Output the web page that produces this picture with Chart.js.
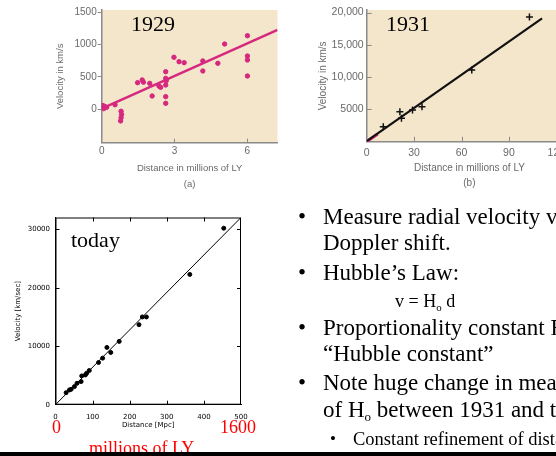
<!DOCTYPE html>
<html>
<head>
<meta charset="utf-8">
<script src="https://cdn.jsdelivr.net/npm/chart.js@4"></script>
<style>
  html, body { margin: 0; padding: 0; background: #fff; }
  body { width: 556px; height: 456px; overflow: hidden; position: relative; }
  .box { position: absolute; }
  .yr { position: absolute; font-family: "Liberation Serif", serif; font-size: 22px; color: #000; line-height: 22px; }
  .red { position: absolute; font-family: "Liberation Serif", serif; font-size: 18px; color: #f00; line-height: 18px; white-space: nowrap; }
  .ln { position: absolute; font-family: "Liberation Serif", serif; font-size: 23px; line-height: 22px; white-space: nowrap; color: #000; }
  .ln sub { font-size: 13px; vertical-align: -4px; line-height: 0; }
  .bar { position: absolute; left: 0; top: 452px; width: 556px; height: 4px; background: #000; }
</style>
</head>
<body>
<div class="box" style="left:40px;top:0px"><canvas id="c1929" width="250" height="195"></canvas></div>
<div class="box" style="left:290px;top:0px"><canvas id="c1931" width="300" height="195"></canvas></div>
<div class="box" style="left:0px;top:205px"><canvas id="cToday" width="250" height="230"></canvas></div>

<div class="yr" style="left:131px;top:13px">1929</div>
<div class="yr" style="left:386px;top:13px">1931</div>
<div class="yr" style="left:71px;top:229px">today</div>

<div class="red" style="left:52px;top:418px">0</div>
<div class="red" style="left:220px;top:418px">1600</div>
<div class="red" style="left:89px;top:439px">millions of LY</div>
<div class="red" style="left:538px;top:-19px">p</div>

<div class="ln" style="left:298px;top:206px">•</div>
<div class="ln" style="left:323px;top:206px">Measure radial velocity via</div>
<div class="ln" style="left:323px;top:232px">Doppler shift.</div>
<div class="ln" style="left:298px;top:262px">•</div>
<div class="ln" style="left:323px;top:262px">Hubble’s Law:</div>
<div class="ln" style="left:395px;top:290px;font-size:18px">v = H<sub style="font-size:11px">o</sub> d</div>
<div class="ln" style="left:298px;top:317px">•</div>
<div class="ln" style="left:323px;top:317px">Proportionality constant H<sub>o</sub> is the</div>
<div class="ln" style="left:323px;top:343px">“Hubble constant”</div>
<div class="ln" style="left:298px;top:372px">•</div>
<div class="ln" style="left:323px;top:372px">Note huge change in measured value</div>
<div class="ln" style="left:323px;top:399px">of H<sub>o</sub> between 1931 and today</div>
<div class="ln" style="left:330px;top:428px;font-size:17px">•</div>
<div class="ln" style="left:353px;top:428px;font-size:18.5px">Constant refinement of distances</div>
<div class="bar"></div>

<script>
// 1929 (Hubble's original data), distance in millions of LY, velocity in km/s
const dist1929 = [0.04, 0.08, 0.12, 0.2, 0.55, 0.8, 0.82, 0.8, 0.78, 1.48, 1.67, 1.72, 1.98, 2.08, 2.36, 2.43,
                  2.64, 2.64, 2.66, 2.64, 2.64, 2.64, 2.98, 3.19, 3.4, 4.17, 4.17, 4.79, 5.07, 6.01, 6.01, 6.01, 6.01];
const vel1929 = [60, 10, 45, 30, 70, -30, -80, -130, -180, 412, 454, 420, 402, 206, 361, 340,
                 582, 479, 440, 376, 196, 93, 805, 737, 722, 748, 593, 712, 1011, 1139, 825, 763, 515];
const fit1929X = [0, 7.25];
const fit1929Y = [10, 1230];
const ticks1929X = [0, 3, 6];
const ticks1929Y = [0, 500, 1000, 1500];

// 1931
const dist1931 = [10.5, 21, 22, 29, 35, 66.5, 103];
const vel1931 = [2320, 4640, 3620, 4900, 5420, 11100, 19300];
const fit1931X = [0, 111];
const fit1931Y = [100, 19100];
const old1931X = [0, 7];
const old1931Y = [0, 1200];
const ticks1931X = [0, 30, 60, 90, 120];
const ticks1931Y = [5000, 10000, 15000, 20000];

// today, distance in Mpc, velocity in km/sec
const distToday = [28.6, 37.6, 42, 51, 58, 69, 70.7, 80.5, 84, 91, 116, 127, 138.6, 149, 171.7, 225, 234, 245, 362, 453.5];
const velToday = [2060, 2520, 2630, 3090, 3660, 3950, 4920, 5090, 5380, 5840, 7210, 7960, 9790, 8930, 10820, 13680, 15000, 15000, 22270, 30170];
const fitTodayX = [0, 500];
const fitTodayY = [0, 32000];
const ticksTodayX = [0, 100, 200, 300, 400, 500];
const ticksTodayY = [0, 10000, 20000, 30000];

const pts = (xs, ys) => xs.map((x, i) => ({ x: x, y: ys[i] }));
const setTicks = (vals) => (scale) => { scale.ticks = vals.map(v => ({ value: v })); };
const plain = v => String(v);

// plot background, box and inner tick marks
const framePlugin = {
    id: 'frame',
    beforeDraw(chart, args, opts) {
        const a = chart.chartArea;
        if (opts.fill) {
            chart.ctx.save();
            chart.ctx.fillStyle = opts.fill;
            chart.ctx.fillRect(a.left, a.top, a.right - a.left, a.bottom - a.top);
            chart.ctx.restore();
        }
    },
    afterDraw(chart, args, opts) {
        const ctx = chart.ctx;
        const a = chart.chartArea;
        const sx = chart.scales.x, sy = chart.scales.y;
        const len = opts.tickLen || 4;
        ctx.save();
        ctx.strokeStyle = opts.color || '#000';
        ctx.lineWidth = 1;
        if (opts.box) ctx.strokeRect(a.left + 0.5, a.top + 0.5, a.right - a.left - 1, a.bottom - a.top - 1);
        ctx.beginPath();
        (opts.xSides || []).forEach(side => {
            sx.ticks.forEach(t => {
                const px = Math.round(sx.getPixelForValue(t.value)) + 0.5;
                if (px <= a.left + 1 || px >= a.right - 1) return;
                if (side === 'bottom') { ctx.moveTo(px, a.bottom); ctx.lineTo(px, a.bottom - len); }
                else { ctx.moveTo(px, a.top); ctx.lineTo(px, a.top + len); }
            });
        });
        (opts.ySides || []).forEach(side => {
            sy.ticks.forEach(t => {
                const py = Math.round(sy.getPixelForValue(t.value)) + 0.5;
                if (py <= a.top + 1 || py >= a.bottom - 1) return;
                if (side === 'left') { ctx.moveTo(a.left, py); ctx.lineTo(a.left + len, py); }
                else { ctx.moveTo(a.right, py); ctx.lineTo(a.right - len, py); }
            });
        });
        ctx.stroke();
        ctx.restore();
    }
};

Chart.defaults.animation = false;
Chart.defaults.responsive = false;
Chart.defaults.devicePixelRatio = 1;
Chart.defaults.plugins.legend.display = false;
Chart.defaults.plugins.tooltip.enabled = false;

const pink = '#d6287e';
const sans = 'Liberation Sans, Arial, sans-serif';

new Chart(document.getElementById('c1929'), {
    type: 'scatter',
    data: {
        datasets: [
            { type: 'line', data: pts(fit1929X, fit1929Y), borderColor: pink, borderWidth: 2.5, pointRadius: 0 },
            { data: pts(dist1929, vel1929), backgroundColor: pink, borderColor: pink, pointRadius: 2.2 }
        ]
    },
    options: {
        layout: { padding: { left: 0, right: 12.5, top: 10, bottom: 0 } },
        scales: {
            x: {
                min: 0, max: 7.25,
                afterBuildTicks: setTicks(ticks1929X),
                afterFit(s) { s.height = 52.3; s.paddingLeft = 0; s.paddingRight = 0; },
                grid: { display: false, drawTicks: false },
                border: { display: true, color: '#8a8a8a', width: 1.5 },
                ticks: { padding: 3, color: '#6a6a6a', font: { family: sans, size: 10 }, callback: plain },
                title: { display: true, text: ['Distance in millions of LY', '(a)'], color: '#6a6a6a',
                         font: { family: sans, size: 9.5, lineHeight: 1.65 }, padding: { top: 0, bottom: 3 } }
            },
            y: {
                min: -517, max: 1537,
                afterBuildTicks: setTicks(ticks1929Y),
                afterFit(s) { s.width = 61.7; s.paddingTop = 0; s.paddingBottom = 0; },
                grid: { drawOnChartArea: false, drawTicks: true, tickLength: 4, color: '#8a8a8a' },
                border: { display: true, color: '#8a8a8a', width: 1.5 },
                ticks: { padding: 1, color: '#6a6a6a', font: { family: sans, size: 10 }, callback: plain },
                title: { display: true, text: 'Velocity in km/s', color: '#6a6a6a',
                         font: { family: sans, size: 9.5 }, padding: { top: 14.5, bottom: 0 } }
            }
        },
        plugins: { frame: { fill: '#f4e6cb', color: '#8a8a8a', xSides: ['bottom'], tickLen: 4 } }
    },
    plugins: [framePlugin]
});

new Chart(document.getElementById('c1931'), {
    type: 'scatter',
    data: {
        datasets: [
            { type: 'line', data: pts(fit1931X, fit1931Y), borderColor: '#111', borderWidth: 2.2, pointRadius: 0 },
            { type: 'line', data: pts(old1931X, old1931Y), borderColor: pink, borderWidth: 3, pointRadius: 0 },
            { data: pts(dist1931, vel1931), backgroundColor: '#111', borderColor: '#111',
              pointStyle: 'cross', pointRadius: 3.5, borderWidth: 1.5 }
        ]
    },
    options: {
        layout: { padding: { left: 0, right: 17.9, top: 10, bottom: 0 } },
        scales: {
            x: {
                min: 0, max: 130,
                afterBuildTicks: setTicks(ticks1931X),
                afterFit(s) { s.height = 53.3; s.paddingLeft = 0; s.paddingRight = 0; },
                grid: { display: false, drawTicks: false },
                border: { display: true, color: '#8a8a8a', width: 1.5 },
                ticks: { padding: 5, color: '#6a6a6a', font: { family: sans, size: 10.5 }, callback: plain },
                title: { display: true, text: ['Distance in millions of LY', '(b)'], color: '#6a6a6a',
                         font: { family: sans, size: 10, lineHeight: 1.5 }, padding: { top: 0, bottom: 4 } }
            },
            y: {
                min: 0, max: 20390,
                afterBuildTicks: setTicks(ticks1931Y),
                afterFit(s) { s.width = 76.7; s.paddingTop = 0; s.paddingBottom = 0; },
                grid: { display: false, drawTicks: false },
                border: { display: true, color: '#8a8a8a', width: 1.5 },
                ticks: { padding: 3, color: '#6a6a6a', font: { family: sans, size: 10.5 },
                         callback: v => v === 5000 ? '5000' : v.toLocaleString('en-US') },
                title: { display: true, text: 'Velocity in km/s', color: '#6a6a6a',
                         font: { family: sans, size: 10 }, padding: { top: 27, bottom: 0 } }
            }
        },
        plugins: { frame: { fill: '#f4e6cb', color: '#8a8a8a', xSides: ['bottom'], ySides: ['left'], tickLen: 5 } }
    },
    plugins: [framePlugin]
});

const dv = 'DejaVu Sans, sans-serif';
new Chart(document.getElementById('cToday'), {
    type: 'scatter',
    data: {
        datasets: [
            { type: 'line', data: pts(fitTodayX, fitTodayY), borderColor: '#000', borderWidth: 1, pointRadius: 0 },
            { data: pts(distToday, velToday), backgroundColor: '#000', borderColor: '#000', pointRadius: 2 }
        ]
    },
    options: {
        layout: { padding: { left: 0, right: 9, top: 12.5, bottom: 0 } },
        scales: {
            x: {
                min: 0, max: 500,
                afterBuildTicks: setTicks(ticksTodayX),
                afterFit(s) { s.height = 30.3; s.paddingLeft = 0; s.paddingRight = 0; },
                grid: { display: false, drawTicks: false },
                border: { display: true, color: '#000', width: 1 },
                ticks: { padding: 8, color: '#000', font: { family: dv, size: 7 }, callback: plain },
                title: { display: true, text: 'Distance [Mpc]', color: '#000',
                         font: { family: dv, size: 7 }, padding: { top: 0, bottom: 6 } }
            },
            y: {
                min: 0, max: 32000,
                afterBuildTicks: setTicks(ticksTodayY),
                afterFit(s) { s.width = 55.5; s.paddingTop = 0; s.paddingBottom = 0; },
                grid: { display: false, drawTicks: false },
                border: { display: true, color: '#000', width: 1 },
                ticks: { padding: 5.5, color: '#000', font: { family: dv, size: 7 }, callback: plain },
                title: { display: true, text: 'Velocity [km/sec]', color: '#000',
                         font: { family: dv, size: 7 }, padding: { top: 14, bottom: 0 } }
            }
        },
        plugins: { frame: { box: true, color: '#000', xSides: ['bottom', 'top'], ySides: ['left', 'right'], tickLen: 4 } }
    },
    plugins: [framePlugin]
});
</script>
</body>
</html>
